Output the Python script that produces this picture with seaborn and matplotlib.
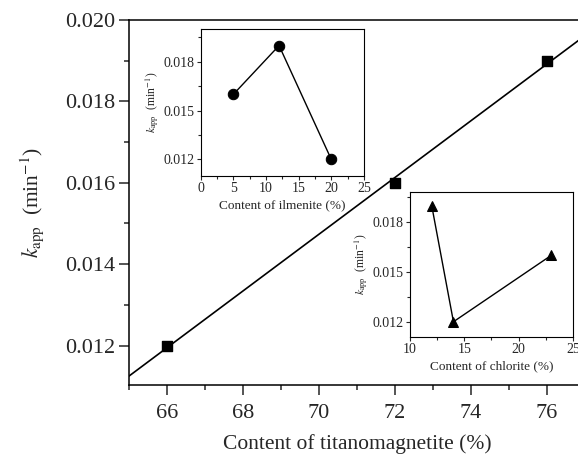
import numpy as np
import pandas as pd
import matplotlib
matplotlib.use('Agg')
import matplotlib.pyplot as plt
import seaborn as sns
from matplotlib.ticker import MultipleLocator

# main plot: titanomagnetite content vs k_app
titano = [66, 72, 76]
k_titano = [0.0120, 0.0160, 0.0190]
# inset 1: ilmenite
ilmenite = [5, 12, 20]
k_ilmenite = [0.0160, 0.0190, 0.0120]
# inset 2: chlorite
chlorite = [12, 14, 23]
k_chlorite = [0.0190, 0.0120, 0.0160]

sns.set_style('ticks')
plt.rcParams['font.family'] = ['Liberation Serif', 'DejaVu Serif']
plt.rcParams['mathtext.fontset'] = 'stix'
plt.rcParams['axes.linewidth'] = 1.1

fig = plt.figure(figsize=(5.78, 4.55), dpi=100)
ax = fig.add_axes([0.2232, 0.1538, 0.789, 0.8022])

df = pd.DataFrame({'x': titano, 'k': k_titano})
ax.set_xlim(65, 77)
ax.set_ylim(0.01103, 0.0200)
sns.regplot(x='x', y='k', data=df, ax=ax, ci=None, truncate=False, color='black',
            marker='s', scatter_kws={'s': 55, 'alpha': 1, 'zorder': 3},
            line_kws={'lw': 1.2})
ax.set_xlim(65, 77)
ax.set_ylim(0.01103, 0.0200)
ax.xaxis.set_major_locator(MultipleLocator(2))
ax.xaxis.set_minor_locator(MultipleLocator(1))
ax.yaxis.set_major_locator(MultipleLocator(0.002))
ax.yaxis.set_minor_locator(MultipleLocator(0.001))
ax.yaxis.set_major_formatter(matplotlib.ticker.FormatStrFormatter('%.3f'))
ax.tick_params(which='major', direction='out', length=7, width=1.1, labelsize=16, pad=3)
ax.tick_params(axis='x', which='major', pad=7)
ax.tick_params(which='minor', direction='out', length=3.5, width=1.1)
ax.set_xlabel('Content of titanomagnetite (%)', fontsize=15.5, labelpad=8)
ax.set_ylabel(r'$k_{\rm app}$  (min$^{-1}$)', fontsize=15.5, labelpad=14)
for s in ax.spines.values():
    s.set_visible(True)
    s.set_color('black')


def inset(rect, x, y, marker, xlim, ylim, xmaj, xlabel):
    a = fig.add_axes(rect)
    d = pd.DataFrame({'x': x, 'k': y})
    sns.lineplot(x='x', y='k', data=d, ax=a, color='black', marker=marker,
                 markersize=7.5, lw=1.0, markeredgecolor='black')
    a.set_xlim(*xlim)
    a.set_ylim(*ylim)
    a.xaxis.set_major_locator(MultipleLocator(xmaj))
    a.xaxis.set_minor_locator(MultipleLocator(xmaj / 2))
    a.yaxis.set_major_locator(MultipleLocator(0.003))
    a.yaxis.set_minor_locator(MultipleLocator(0.0015))
    a.yaxis.set_major_formatter(matplotlib.ticker.FormatStrFormatter('%.3f'))
    a.tick_params(which='major', direction='out', length=3, width=0.8, labelsize=10, pad=1.5)
    a.tick_params(which='minor', direction='out', length=2, width=0.8)
    a.set_xlabel(xlabel, fontsize=9.5, labelpad=3)
    a.set_ylabel(r'$k_{\rm app}$  (min$^{-1}$)', fontsize=8.5, labelpad=2)
    for s in a.spines.values():
        s.set_visible(True)
        s.set_color('black')
        s.set_linewidth(0.8)
    return a


inset([0.3472, 0.6138, 0.2825, 0.3218], ilmenite, k_ilmenite, 'o',
      (0, 25), (0.0110, 0.0200), 5, 'Content of ilmenite (%)')
inset([0.7093, 0.2600, 0.2820, 0.3174], chlorite, k_chlorite, '^',
      (10, 25), (0.0111, 0.0198), 5, 'Content of chlorite (%)')

fig.savefig('out.png', dpi=100)
